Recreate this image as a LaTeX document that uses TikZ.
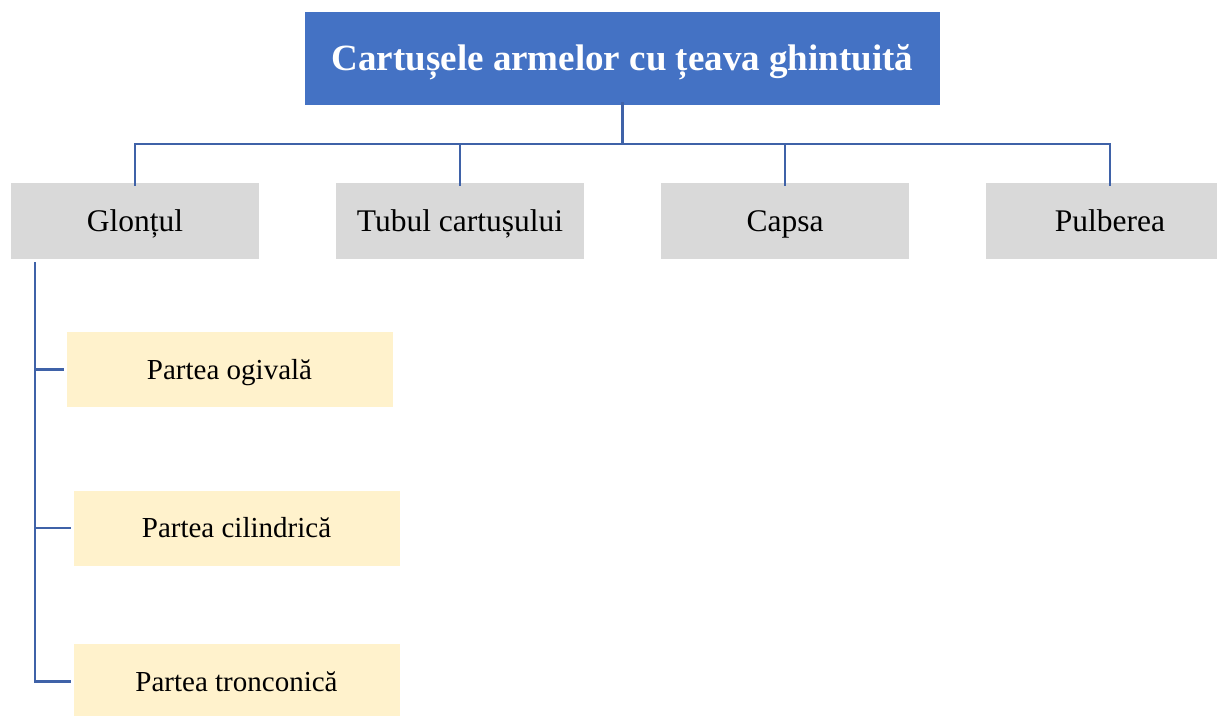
\documentclass[tikz,border=0pt]{standalone}
\usepackage{fontspec}
\setmainfont{Liberation Serif}
\definecolor{titleblue}{HTML}{4472C4}
\definecolor{linkblue}{HTML}{3F62A8}
\definecolor{greybox}{HTML}{D9D9D9}
\definecolor{yellowbox}{HTML}{FFF2CC}
\begin{document}
\begin{tikzpicture}[x=1pt,y=-1pt,
  titlebox/.style={fill=titleblue,text=white,font=\bfseries\fontsize{37}{44}\selectfont,minimum width=635pt,minimum height=93pt,inner sep=0pt,text height=24.4pt,text depth=0pt},
  catbox/.style={fill=greybox,text=black,font=\fontsize{31.5}{36}\selectfont,minimum width=248pt,minimum height=76pt,inner sep=0pt,text height=20.8pt,text depth=0pt},
  partbox/.style={fill=yellowbox,text=black,font=\fontsize{29}{34}\selectfont,minimum width=326pt,minimum height=75pt,inner sep=0pt,text height=19.1pt,text depth=0pt},
  link/.style={draw=linkblue,line width=2.5pt}]
\useasboundingbox (0,0) rectangle (1217,715);
\begin{scope}
\clip (0,0) rectangle (1217,715);
\node[titlebox] (title) at (622.5,58.5) {Cartușele armelor cu țeava ghintuită};
\node[catbox] (c1) at (135,221) {Glonțul};
\node[catbox] (c2) at (460,221) {Tubul cartușului};
\node[catbox] (c3) at (785,221) {Capsa};
\node[catbox] (c4) at (1110,221) {Pulberea};
\node[partbox] (p1) at (229.5,369.5) {Partea ogivală};
\node[partbox] (p2) at (236.5,528) {Partea cilindrică};
\node[partbox] (p3) at (236.5,681.5) {Partea tronconică};
\coordinate (bus) at (622.5,144);
\draw[link] ([yshift=3pt]title.south) -- (bus);
\draw[link] ([yshift=-3pt]c1.north) |- (bus);
\draw[link] ([yshift=-3pt]c4.north) |- (bus);
\draw[link] ([yshift=-3pt]c2.north) -- (c2.north |- bus);
\draw[link] ([yshift=-3pt]c3.north) -- (c3.north |- bus);
\coordinate (trunk) at (35,262);
\draw[link] (trunk) |- ([xshift=-2pt]p3.west);
\draw[link] (trunk |- p1.west) -- ([xshift=-2pt]p1.west);
\draw[link] (trunk |- p2.west) -- ([xshift=-2pt]p2.west);
\end{scope}
\end{tikzpicture}
\end{document}
